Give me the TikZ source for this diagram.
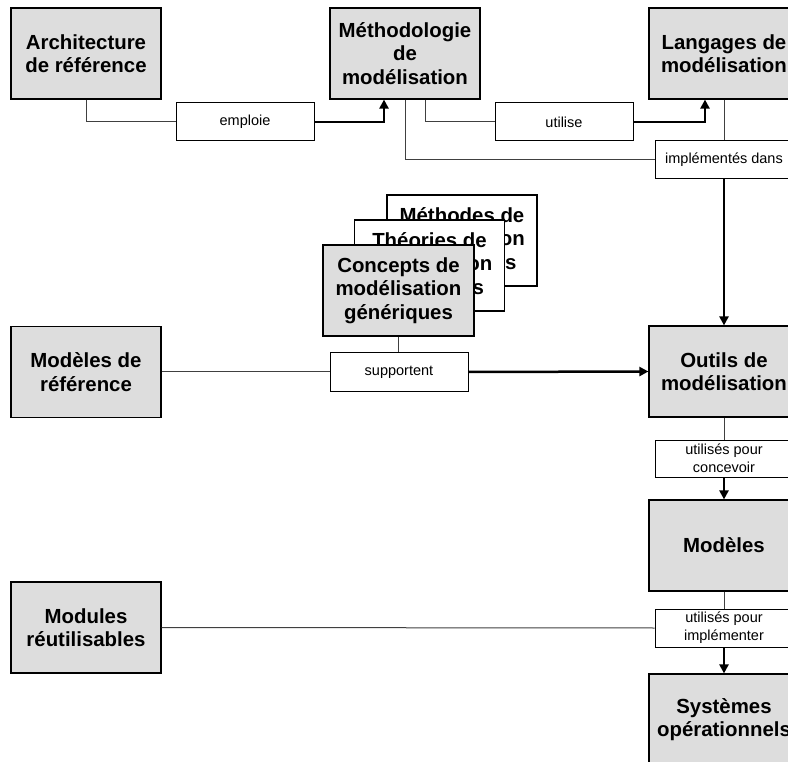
\documentclass[tikz,border=0pt]{standalone}
\usepackage{fontspec}
\setmainfont{Liberation Sans}
\usetikzlibrary{arrows.meta}
\definecolor{boxgray}{RGB}{221,221,221}
\definecolor{linegray}{RGB}{64,64,64}
\tikzset{
  bigbox/.style={draw=black, line width=1.2pt, fill=boxgray, minimum width=150pt, minimum height=91pt,
    inner sep=0pt, align=center, font=\fontsize{20.4}{23.5}\selectfont\bfseries},
  backbox/.style={bigbox, fill=white},
  lblbox/.style={draw=black, line width=1pt, fill=white, minimum width=138pt, minimum height=38pt,
    inner sep=0pt, align=center, font=\fontsize{14.5}{18}\selectfont},
  thinline/.style={draw=linegray, line width=1pt},
  thickarrow/.style={draw=black, line width=2.5pt, -{Triangle[length=9pt,width=9pt]}},
}
\begin{document}
\begin{tikzpicture}[x=1pt,y=-1pt]
\useasboundingbox (0,0) rectangle (788,762);
\clip (0,0) rectangle (788,762);
% big boxes
\node[bigbox] (arch) at (86,53.5) {Architecture\\de référence};
\node[bigbox] (meth) at (405,53.5) {Méthodologie\\de\\modélisation};
\node[bigbox] (lang) at (724,53.5) {Langages de\\modélisation};
\node[bigbox] (modref) at (86,372) {Modèles de\\référence};
\node[backbox] (methodes) at (462,240.5) {Méthodes de\\modélisation\\génériques};
\node[backbox] (theories) at (429.5,265.5) {Théories de\\modélisation\\génériques};
\node[bigbox, minimum width=151pt] (concepts) at (398.5,290.5) {Concepts de\\modélisation\\génériques};
\node[bigbox] (outils) at (724,371.5) {Outils de\\modélisation};
\node[bigbox] (modeles) at (724,545.5) {Modèles};
\node[bigbox] (modules) at (86,627.5) {Modules\\réutilisables};
\node[bigbox] (systemes) at (724,719.5) {Systèmes\\opérationnels};
% label boxes
\node[lblbox] (emploie) at (245,122) {emploie};
\node[lblbox] (utilise) at (564,122) {utilise};
\node[lblbox] (impl) at (724,160) {implémentés dans};
\node[lblbox] (supportent) at (399,372) {supportent};
\node[lblbox, minimum height=37pt] (concevoir) at (724,458.5) {utilisés pour\\concevoir};
\node[lblbox] (implementer) at (724,628) {utilisés pour\\implémenter};
% connectors
\draw[thinline] (arch.south) |- (emploie.west);
\draw[thickarrow] (emploie.east) -| ([xshift=-21pt]meth.south);
\draw[thinline] ([xshift=20pt]meth.south) |- (utilise.west);
\draw[thickarrow] (utilise.east) -| ([xshift=-19pt]lang.south);
\draw[thinline] (meth.south) |- (impl.west);
\draw[thinline] (lang.south) -- (impl.north);
\draw[thickarrow] (impl.south) -- (outils.north);
\draw[thinline] (modref.east) -- (supportent.west);
\draw[thinline] (concepts.south) -- (concepts.south |- supportent.north);
\draw[thickarrow] (supportent.east) -- (outils.west);
\draw[thinline] (outils.south) -- (concevoir.north);
\draw[thickarrow] (concevoir.south) -- (modeles.north);
\draw[thinline] (modeles.south) -- (implementer.north);
\draw[thinline] (modules.east) -- (implementer.west);
\draw[thickarrow] (implementer.south) -- (systemes.north);
\end{tikzpicture}
\end{document}
